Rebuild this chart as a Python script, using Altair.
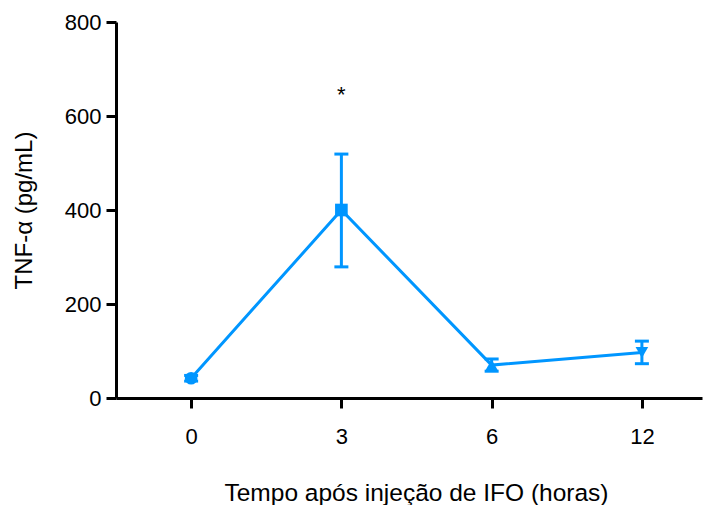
import altair as alt
import pandas as pd

times = ["0", "3", "6", "12"]
means = [42, 400, 70, 97]
lower = [36, 279, 57, 73]
upper = [48, 519, 83, 121]
shapes = ["circle", "square", "triangle-up", "triangle-down"]
star_time = "3"
star_y = 649

df = pd.DataFrame({
    "idx": list(range(len(times))),
    "time": times,
    "mean": means,
    "lo": lower,
    "hi": upper,
    "shape": shapes,
})
star_df = pd.DataFrame({"idx": [times.index(star_time)], "y": [star_y], "t": ["*"]})

BLUE = "#0096FF"
FONT = "Liberation Sans"

label_expr = "[" + ",".join(f"'{t}'" for t in times) + "][datum.value]"

x = alt.X(
    "idx:Q",
    scale=alt.Scale(domain=[-0.5, 3.4], nice=False, zero=False),
    axis=alt.Axis(
        values=list(range(len(times))),
        labelExpr=label_expr,
        title="Tempo após injeção de IFO (horas)",
        grid=False,
        domainColor="black",
        domainWidth=3,
        tickColor="black",
        tickWidth=3,
        tickSize=10,
        labelPadding=18,
        labelFontSize=22,
        labelFont=FONT,
        labelColor="black",
        titleFont=FONT,
        titleFontSize=24.5,
        titleFontWeight="normal",
        titleColor="black",
        titleX=300,
        titleY=95,
        titleBaseline="middle",
    ),
)
y = alt.Y(
    "mean:Q",
    scale=alt.Scale(domain=[0, 800], nice=False),
    axis=alt.Axis(
        values=[0, 200, 400, 600, 800],
        title="TNF-α (pg/mL)",
        grid=False,
        domainColor="black",
        domainWidth=3,
        tickColor="black",
        tickWidth=3,
        tickSize=10,
        labelPadding=5,
        labelFontSize=22,
        labelFont=FONT,
        labelColor="black",
        titleFont=FONT,
        titleFontSize=24,
        titleFontWeight="normal",
        titleColor="black",
        titleX=-92,
        titleY=188,
        titleBaseline="middle",
        titleAlign="center",
        titleAngle=270,
    ),
)

base = alt.Chart(df)

line = base.mark_line(color=BLUE, strokeWidth=3).encode(x=x, y=y)
err = base.mark_rule(color=BLUE, strokeWidth=3).encode(x=x, y=alt.Y("lo:Q"), y2="hi:Q")
cap_lo = base.mark_tick(color=BLUE, opacity=1, orient="horizontal", size=14, thickness=3).encode(x=x, y=alt.Y("lo:Q"))
cap_hi = base.mark_tick(color=BLUE, opacity=1, orient="horizontal", size=14, thickness=3).encode(x=x, y=alt.Y("hi:Q"))
pts = base.mark_point(filled=True, color=BLUE, opacity=1, size=160).encode(
    x=x, y=y, shape=alt.Shape("shape:N", scale=None)
)
star = alt.Chart(star_df).mark_text(
    font=FONT, fontSize=22, color="black", baseline="alphabetic", dy=9
).encode(x=alt.X("idx:Q"), y=alt.Y("y:Q"), text="t:N")

chart = (
    alt.layer(line, err, cap_lo, cap_hi, pts, star)
    .properties(
        width=586,
        height=376,
        autosize=alt.AutoSizeParams(type="none"),
        padding={"left": 116, "top": 22, "right": 4, "bottom": 107},
        background="white",
    )
    .configure_view(stroke=None)
)

chart.save("out.html", embed_options={"renderer": "svg", "actions": False})
